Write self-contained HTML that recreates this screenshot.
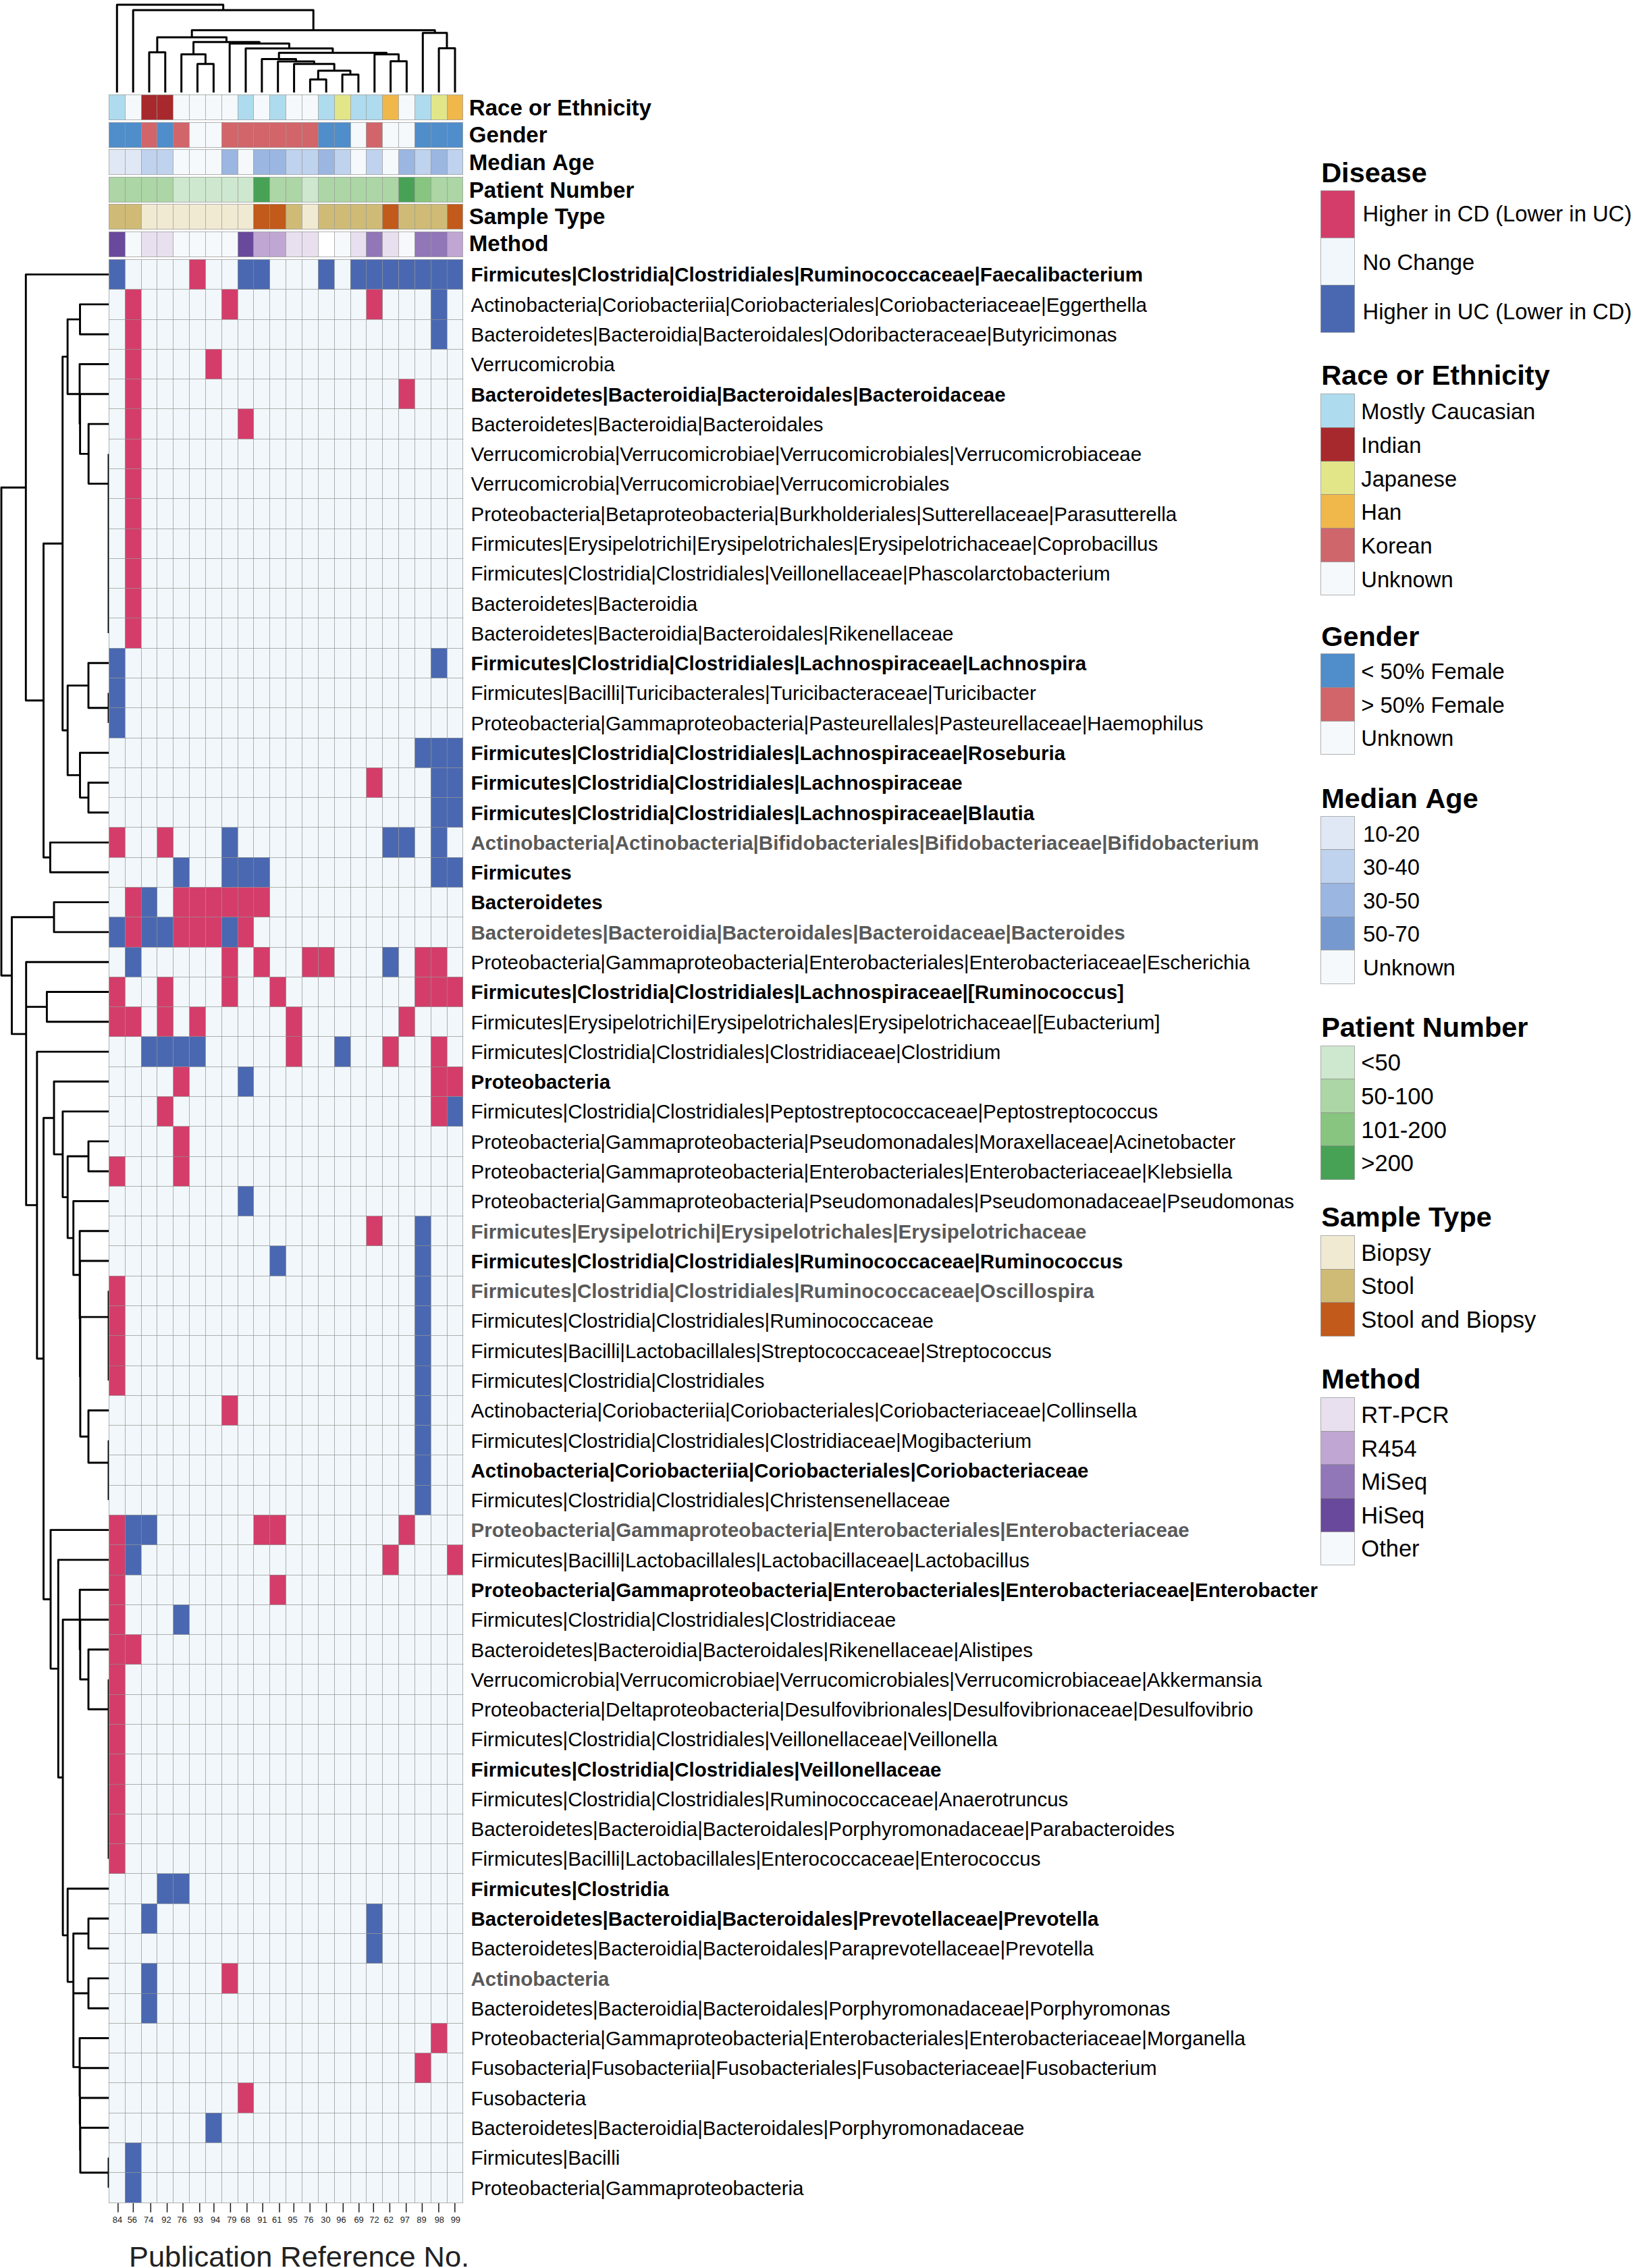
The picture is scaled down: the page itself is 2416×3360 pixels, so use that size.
<!DOCTYPE html>
<html lang="en"><head><meta charset="utf-8"><title>Heatmap</title>
<style>html,body{margin:0;padding:0;background:#fff}svg{display:block}text{font-family:"Liberation Sans",sans-serif}</style></head><body>
<svg width="2416" height="3360" viewBox="0 0 2416 3360">
<rect width="2416" height="3360" fill="#fff"/>
<path d="M221.0,137.0V77.6H244.8V137.0M292.5,137.0V94.7H316.4V137.0M268.7,137.0V80.4H304.4V94.7M459.4,137.0V117.7H483.2V137.0M507.1,137.0V110.4H530.9V137.0M471.3,117.7V104.8H519.0V110.4M435.6,137.0V94.7H495.2V104.8M411.7,137.0V91.0H465.4V94.7M387.9,137.0V87.4H438.5V91.0M578.6,137.0V90.7H602.4V137.0M554.8,137.0V80.4H590.5V90.7M413.2,87.4V78.2H572.6V80.4M364.0,137.0V71.7H492.9V78.2M340.2,137.0V64.4H428.5V71.7M286.6,80.4V62.2H384.3V64.4M232.9,77.6V55.2H335.5V62.2M650.1,137.0V71.4H674.0V137.0M626.3,137.0V48.7H662.0V71.4M284.2,55.2V44.7H644.2V48.7M197.2,137.0V15.0H464.2V44.7M173.3,137.0V7.0H330.7V15.0" fill="none" stroke="#000" stroke-width="3" stroke-linejoin="round"/>
<path d="M161.4,450.9H118.5V495.2H161.4M161.4,628.1H131.2V716.6H161.0M161.4,583.8H118.6V672.4H131.2M161.4,539.5H118.0V628.1H118.6M118.5,473.1H100.1V583.8H118.0M161.4,982.3H131.0V1048.8H161.0M161.4,1159.5H131.0V1203.8H161.4M161.4,1115.2H118.5V1181.6H131.0M131.0,1015.6H100.2V1148.4H118.5M100.1,528.4H92.7V1082.0H100.2M161.4,1248.1H74.4V1292.3H161.4M92.7,805.2H64.5V1270.2H74.4M161.4,406.6H38.3V1037.7H64.5M161.4,1336.6H80.0V1380.9H161.4M161.4,1469.5H69.4V1513.8H161.4M161.4,1690.9H131.0V1735.2H161.4M161.4,2089.5H131.0V2167.0H161.0M161.0,1951.1H118.9V2128.2H131.0M161.4,1868.0H118.5V2039.7H118.9M161.4,1823.8H118.1V1953.8H118.5M161.4,1779.5H108.7V1888.8H118.1M131.0,1713.0H100.2V1834.1H108.7M161.4,1646.6H92.9V1773.6H100.2M161.4,1602.3H80.0V1710.1H92.9M161.4,2443.8H131.0V2532.3H161.0M161.4,2399.5H118.8V2488.0H131.0M161.4,2355.2H118.2V2443.8H118.8M161.4,2842.3H131.0V2886.6H161.4M161.4,2930.9H131.0V2975.2H161.4M161.4,3152.3H118.9V3218.7H161.0M161.4,3108.0H118.6V3185.5H118.9M161.4,3063.7H118.3V3146.8H118.6M161.4,3019.5H118.0V3105.3H118.3M131.0,2953.0H108.7V3062.4H118.0M131.0,2864.5H108.7V3007.7H108.7M161.4,2798.0H100.2V2936.1H108.7M118.2,2399.5H93.1V2867.1H100.2M161.4,2310.9H86.3V2633.3H93.1M161.4,2266.6H75.0V2472.1H86.3M80.0,1656.2H64.5V2369.3H75.0M161.4,1558.1H54.8V2012.8H64.5M69.4,1491.6H38.7V1785.4H54.8M161.4,1425.2H38.7V1638.5H38.7M80.0,1358.8H17.5V1531.9H38.7M38.3,722.2H2.0V1445.3H17.5" fill="none" stroke="#000" stroke-width="2.9" stroke-linejoin="round"/>
<path d="M161.0,672.4V938.1M161.0,1026.6V1070.9M161.0,1912.3V2045.2M161.0,2133.8V2222.3M161.0,2488.0V2753.7M161.0,3196.6V3240.9" fill="none" stroke="#000" stroke-width="2.9"/>
<rect x="161.5" y="140.5" width="24.0" height="37.0" fill="#AEDCEE"/>
<rect x="185.5" y="140.5" width="24.0" height="37.0" fill="#F5F9FB"/>
<rect x="209.5" y="140.5" width="23.0" height="37.0" fill="#A8292D"/>
<rect x="232.5" y="140.5" width="24.0" height="37.0" fill="#A8292D"/>
<rect x="256.5" y="140.5" width="24.0" height="37.0" fill="#F5F9FB"/>
<rect x="280.5" y="140.5" width="24.0" height="37.0" fill="#F5F9FB"/>
<rect x="304.5" y="140.5" width="24.0" height="37.0" fill="#F5F9FB"/>
<rect x="328.5" y="140.5" width="24.0" height="37.0" fill="#F5F9FB"/>
<rect x="352.5" y="140.5" width="23.0" height="37.0" fill="#AEDCEE"/>
<rect x="375.5" y="140.5" width="24.0" height="37.0" fill="#F5F9FB"/>
<rect x="399.5" y="140.5" width="24.0" height="37.0" fill="#AEDCEE"/>
<rect x="423.5" y="140.5" width="24.0" height="37.0" fill="#F5F9FB"/>
<rect x="447.5" y="140.5" width="24.0" height="37.0" fill="#F5F9FB"/>
<rect x="471.5" y="140.5" width="24.0" height="37.0" fill="#AEDCEE"/>
<rect x="495.5" y="140.5" width="24.0" height="37.0" fill="#E3E688"/>
<rect x="519.5" y="140.5" width="23.0" height="37.0" fill="#AEDCEE"/>
<rect x="542.5" y="140.5" width="24.0" height="37.0" fill="#AEDCEE"/>
<rect x="566.5" y="140.5" width="24.0" height="37.0" fill="#F0B74A"/>
<rect x="590.5" y="140.5" width="24.0" height="37.0" fill="#F5F9FB"/>
<rect x="614.5" y="140.5" width="24.0" height="37.0" fill="#AEDCEE"/>
<rect x="638.5" y="140.5" width="24.0" height="37.0" fill="#E3E688"/>
<rect x="662.5" y="140.5" width="23.0" height="37.0" fill="#F0B74A"/>
<path d="M161.5,140.5H685.5M161.5,177.5H685.5M161.5,140.5V177.5M185.5,140.5V177.5M209.5,140.5V177.5M232.5,140.5V177.5M256.5,140.5V177.5M280.5,140.5V177.5M304.5,140.5V177.5M328.5,140.5V177.5M352.5,140.5V177.5M375.5,140.5V177.5M399.5,140.5V177.5M423.5,140.5V177.5M447.5,140.5V177.5M471.5,140.5V177.5M495.5,140.5V177.5M519.5,140.5V177.5M542.5,140.5V177.5M566.5,140.5V177.5M590.5,140.5V177.5M614.5,140.5V177.5M638.5,140.5V177.5M662.5,140.5V177.5M685.5,140.5V177.5" fill="none" stroke="#8c8c8c" stroke-opacity="0.66" stroke-width="1" stroke-linecap="square"/>
<text x="694.8" y="170.75" font-size="33.1" font-weight="bold">Race or Ethnicity</text>
<rect x="161.5" y="181.5" width="24.0" height="37.0" fill="#4F8DCB"/>
<rect x="185.5" y="181.5" width="24.0" height="37.0" fill="#4F8DCB"/>
<rect x="209.5" y="181.5" width="23.0" height="37.0" fill="#D2656A"/>
<rect x="232.5" y="181.5" width="24.0" height="37.0" fill="#4F8DCB"/>
<rect x="256.5" y="181.5" width="24.0" height="37.0" fill="#D2656A"/>
<rect x="280.5" y="181.5" width="24.0" height="37.0" fill="#F5F9FB"/>
<rect x="304.5" y="181.5" width="24.0" height="37.0" fill="#F5F9FB"/>
<rect x="328.5" y="181.5" width="24.0" height="37.0" fill="#D2656A"/>
<rect x="352.5" y="181.5" width="23.0" height="37.0" fill="#D2656A"/>
<rect x="375.5" y="181.5" width="24.0" height="37.0" fill="#D2656A"/>
<rect x="399.5" y="181.5" width="24.0" height="37.0" fill="#D2656A"/>
<rect x="423.5" y="181.5" width="24.0" height="37.0" fill="#D2656A"/>
<rect x="447.5" y="181.5" width="24.0" height="37.0" fill="#D2656A"/>
<rect x="471.5" y="181.5" width="24.0" height="37.0" fill="#4F8DCB"/>
<rect x="495.5" y="181.5" width="24.0" height="37.0" fill="#4F8DCB"/>
<rect x="519.5" y="181.5" width="23.0" height="37.0" fill="#F5F9FB"/>
<rect x="542.5" y="181.5" width="24.0" height="37.0" fill="#D2656A"/>
<rect x="566.5" y="181.5" width="24.0" height="37.0" fill="#F5F9FB"/>
<rect x="590.5" y="181.5" width="24.0" height="37.0" fill="#F5F9FB"/>
<rect x="614.5" y="181.5" width="24.0" height="37.0" fill="#4F8DCB"/>
<rect x="638.5" y="181.5" width="24.0" height="37.0" fill="#4F8DCB"/>
<rect x="662.5" y="181.5" width="23.0" height="37.0" fill="#4F8DCB"/>
<path d="M161.5,181.5H685.5M161.5,218.5H685.5M161.5,181.5V218.5M185.5,181.5V218.5M209.5,181.5V218.5M232.5,181.5V218.5M256.5,181.5V218.5M280.5,181.5V218.5M304.5,181.5V218.5M328.5,181.5V218.5M352.5,181.5V218.5M375.5,181.5V218.5M399.5,181.5V218.5M423.5,181.5V218.5M447.5,181.5V218.5M471.5,181.5V218.5M495.5,181.5V218.5M519.5,181.5V218.5M542.5,181.5V218.5M566.5,181.5V218.5M590.5,181.5V218.5M614.5,181.5V218.5M638.5,181.5V218.5M662.5,181.5V218.5M685.5,181.5V218.5" fill="none" stroke="#8c8c8c" stroke-opacity="0.66" stroke-width="1" stroke-linecap="square"/>
<text x="694.8" y="211.35" font-size="33.1" font-weight="bold">Gender</text>
<rect x="161.5" y="221.5" width="24.0" height="37.0" fill="#E1E8F5"/>
<rect x="185.5" y="221.5" width="24.0" height="37.0" fill="#E1E8F5"/>
<rect x="209.5" y="221.5" width="23.0" height="37.0" fill="#BFD2EE"/>
<rect x="232.5" y="221.5" width="24.0" height="37.0" fill="#BFD2EE"/>
<rect x="256.5" y="221.5" width="24.0" height="37.0" fill="#F5F9FB"/>
<rect x="280.5" y="221.5" width="24.0" height="37.0" fill="#F5F9FB"/>
<rect x="304.5" y="221.5" width="24.0" height="37.0" fill="#F5F9FB"/>
<rect x="328.5" y="221.5" width="24.0" height="37.0" fill="#9AB6E1"/>
<rect x="352.5" y="221.5" width="23.0" height="37.0" fill="#F5F9FB"/>
<rect x="375.5" y="221.5" width="24.0" height="37.0" fill="#9AB6E1"/>
<rect x="399.5" y="221.5" width="24.0" height="37.0" fill="#9AB6E1"/>
<rect x="423.5" y="221.5" width="24.0" height="37.0" fill="#BFD2EE"/>
<rect x="447.5" y="221.5" width="24.0" height="37.0" fill="#BFD2EE"/>
<rect x="471.5" y="221.5" width="24.0" height="37.0" fill="#9AB6E1"/>
<rect x="495.5" y="221.5" width="24.0" height="37.0" fill="#BFD2EE"/>
<rect x="519.5" y="221.5" width="23.0" height="37.0" fill="#F5F9FB"/>
<rect x="542.5" y="221.5" width="24.0" height="37.0" fill="#BFD2EE"/>
<rect x="566.5" y="221.5" width="24.0" height="37.0" fill="#F5F9FB"/>
<rect x="590.5" y="221.5" width="24.0" height="37.0" fill="#9AB6E1"/>
<rect x="614.5" y="221.5" width="24.0" height="37.0" fill="#BFD2EE"/>
<rect x="638.5" y="221.5" width="24.0" height="37.0" fill="#9AB6E1"/>
<rect x="662.5" y="221.5" width="23.0" height="37.0" fill="#BFD2EE"/>
<path d="M161.5,221.5H685.5M161.5,258.5H685.5M161.5,221.5V258.5M185.5,221.5V258.5M209.5,221.5V258.5M232.5,221.5V258.5M256.5,221.5V258.5M280.5,221.5V258.5M304.5,221.5V258.5M328.5,221.5V258.5M352.5,221.5V258.5M375.5,221.5V258.5M399.5,221.5V258.5M423.5,221.5V258.5M447.5,221.5V258.5M471.5,221.5V258.5M495.5,221.5V258.5M519.5,221.5V258.5M542.5,221.5V258.5M566.5,221.5V258.5M590.5,221.5V258.5M614.5,221.5V258.5M638.5,221.5V258.5M662.5,221.5V258.5M685.5,221.5V258.5" fill="none" stroke="#8c8c8c" stroke-opacity="0.66" stroke-width="1" stroke-linecap="square"/>
<text x="694.8" y="252.3" font-size="33.1" font-weight="bold" style="font-kerning:none">Median Age</text>
<rect x="161.5" y="262.5" width="24.0" height="37.0" fill="#ACD6A5"/>
<rect x="185.5" y="262.5" width="24.0" height="37.0" fill="#ACD6A5"/>
<rect x="209.5" y="262.5" width="23.0" height="37.0" fill="#ACD6A5"/>
<rect x="232.5" y="262.5" width="24.0" height="37.0" fill="#ACD6A5"/>
<rect x="256.5" y="262.5" width="24.0" height="37.0" fill="#CEE7CF"/>
<rect x="280.5" y="262.5" width="24.0" height="37.0" fill="#CEE7CF"/>
<rect x="304.5" y="262.5" width="24.0" height="37.0" fill="#CEE7CF"/>
<rect x="328.5" y="262.5" width="24.0" height="37.0" fill="#CEE7CF"/>
<rect x="352.5" y="262.5" width="23.0" height="37.0" fill="#CEE7CF"/>
<rect x="375.5" y="262.5" width="24.0" height="37.0" fill="#48A256"/>
<rect x="399.5" y="262.5" width="24.0" height="37.0" fill="#ACD6A5"/>
<rect x="423.5" y="262.5" width="24.0" height="37.0" fill="#ACD6A5"/>
<rect x="447.5" y="262.5" width="24.0" height="37.0" fill="#CEE7CF"/>
<rect x="471.5" y="262.5" width="24.0" height="37.0" fill="#ACD6A5"/>
<rect x="495.5" y="262.5" width="24.0" height="37.0" fill="#ACD6A5"/>
<rect x="519.5" y="262.5" width="23.0" height="37.0" fill="#ACD6A5"/>
<rect x="542.5" y="262.5" width="24.0" height="37.0" fill="#ACD6A5"/>
<rect x="566.5" y="262.5" width="24.0" height="37.0" fill="#ACD6A5"/>
<rect x="590.5" y="262.5" width="24.0" height="37.0" fill="#48A256"/>
<rect x="614.5" y="262.5" width="24.0" height="37.0" fill="#88C580"/>
<rect x="638.5" y="262.5" width="24.0" height="37.0" fill="#ACD6A5"/>
<rect x="662.5" y="262.5" width="23.0" height="37.0" fill="#ACD6A5"/>
<path d="M161.5,262.5H685.5M161.5,299.5H685.5M161.5,262.5V299.5M185.5,262.5V299.5M209.5,262.5V299.5M232.5,262.5V299.5M256.5,262.5V299.5M280.5,262.5V299.5M304.5,262.5V299.5M328.5,262.5V299.5M352.5,262.5V299.5M375.5,262.5V299.5M399.5,262.5V299.5M423.5,262.5V299.5M447.5,262.5V299.5M471.5,262.5V299.5M495.5,262.5V299.5M519.5,262.5V299.5M542.5,262.5V299.5M566.5,262.5V299.5M590.5,262.5V299.5M614.5,262.5V299.5M638.5,262.5V299.5M662.5,262.5V299.5M685.5,262.5V299.5" fill="none" stroke="#8c8c8c" stroke-opacity="0.66" stroke-width="1" stroke-linecap="square"/>
<text x="694.8" y="292.9" font-size="33.1" font-weight="bold">Patient Number</text>
<rect x="161.5" y="302.5" width="24.0" height="37.0" fill="#CFBB75"/>
<rect x="185.5" y="302.5" width="24.0" height="37.0" fill="#CFBB75"/>
<rect x="209.5" y="302.5" width="23.0" height="37.0" fill="#F1EAD2"/>
<rect x="232.5" y="302.5" width="24.0" height="37.0" fill="#F1EAD2"/>
<rect x="256.5" y="302.5" width="24.0" height="37.0" fill="#F1EAD2"/>
<rect x="280.5" y="302.5" width="24.0" height="37.0" fill="#F1EAD2"/>
<rect x="304.5" y="302.5" width="24.0" height="37.0" fill="#F1EAD2"/>
<rect x="328.5" y="302.5" width="24.0" height="37.0" fill="#F1EAD2"/>
<rect x="352.5" y="302.5" width="23.0" height="37.0" fill="#F1EAD2"/>
<rect x="375.5" y="302.5" width="24.0" height="37.0" fill="#C15A1A"/>
<rect x="399.5" y="302.5" width="24.0" height="37.0" fill="#C15A1A"/>
<rect x="423.5" y="302.5" width="24.0" height="37.0" fill="#CFBB75"/>
<rect x="447.5" y="302.5" width="24.0" height="37.0" fill="#F1EAD2"/>
<rect x="471.5" y="302.5" width="24.0" height="37.0" fill="#CFBB75"/>
<rect x="495.5" y="302.5" width="24.0" height="37.0" fill="#CFBB75"/>
<rect x="519.5" y="302.5" width="23.0" height="37.0" fill="#CFBB75"/>
<rect x="542.5" y="302.5" width="24.0" height="37.0" fill="#CFBB75"/>
<rect x="566.5" y="302.5" width="24.0" height="37.0" fill="#C15A1A"/>
<rect x="590.5" y="302.5" width="24.0" height="37.0" fill="#CFBB75"/>
<rect x="614.5" y="302.5" width="24.0" height="37.0" fill="#CFBB75"/>
<rect x="638.5" y="302.5" width="24.0" height="37.0" fill="#CFBB75"/>
<rect x="662.5" y="302.5" width="23.0" height="37.0" fill="#C15A1A"/>
<path d="M161.5,302.5H685.5M161.5,339.5H685.5M161.5,302.5V339.5M185.5,302.5V339.5M209.5,302.5V339.5M232.5,302.5V339.5M256.5,302.5V339.5M280.5,302.5V339.5M304.5,302.5V339.5M328.5,302.5V339.5M352.5,302.5V339.5M375.5,302.5V339.5M399.5,302.5V339.5M423.5,302.5V339.5M447.5,302.5V339.5M471.5,302.5V339.5M495.5,302.5V339.5M519.5,302.5V339.5M542.5,302.5V339.5M566.5,302.5V339.5M590.5,302.5V339.5M614.5,302.5V339.5M638.5,302.5V339.5M662.5,302.5V339.5M685.5,302.5V339.5" fill="none" stroke="#8c8c8c" stroke-opacity="0.66" stroke-width="1" stroke-linecap="square"/>
<text x="694.8" y="332.4" font-size="33.1" font-weight="bold">Sample Type</text>
<rect x="161.5" y="343.5" width="24.0" height="37.0" fill="#69499B"/>
<rect x="185.5" y="343.5" width="24.0" height="37.0" fill="#F5F9FB"/>
<rect x="209.5" y="343.5" width="23.0" height="37.0" fill="#E8E0EE"/>
<rect x="232.5" y="343.5" width="24.0" height="37.0" fill="#E8E0EE"/>
<rect x="256.5" y="343.5" width="24.0" height="37.0" fill="#F5F9FB"/>
<rect x="280.5" y="343.5" width="24.0" height="37.0" fill="#F5F9FB"/>
<rect x="304.5" y="343.5" width="24.0" height="37.0" fill="#F5F9FB"/>
<rect x="328.5" y="343.5" width="24.0" height="37.0" fill="#F5F9FB"/>
<rect x="352.5" y="343.5" width="23.0" height="37.0" fill="#69499B"/>
<rect x="375.5" y="343.5" width="24.0" height="37.0" fill="#C0A6D2"/>
<rect x="399.5" y="343.5" width="24.0" height="37.0" fill="#C0A6D2"/>
<rect x="423.5" y="343.5" width="24.0" height="37.0" fill="#E8E0EE"/>
<rect x="447.5" y="343.5" width="24.0" height="37.0" fill="#E8E0EE"/>
<rect x="471.5" y="343.5" width="24.0" height="37.0" fill="#FFFFFF"/>
<rect x="495.5" y="343.5" width="24.0" height="37.0" fill="#F5F9FB"/>
<rect x="519.5" y="343.5" width="23.0" height="37.0" fill="#E8E0EE"/>
<rect x="542.5" y="343.5" width="24.0" height="37.0" fill="#9176B8"/>
<rect x="566.5" y="343.5" width="24.0" height="37.0" fill="#E8E0EE"/>
<rect x="590.5" y="343.5" width="24.0" height="37.0" fill="#F5F9FB"/>
<rect x="614.5" y="343.5" width="24.0" height="37.0" fill="#9176B8"/>
<rect x="638.5" y="343.5" width="24.0" height="37.0" fill="#9176B8"/>
<rect x="662.5" y="343.5" width="23.0" height="37.0" fill="#C0A6D2"/>
<path d="M161.5,343.5H685.5M161.5,380.5H685.5M161.5,343.5V380.5M185.5,343.5V380.5M209.5,343.5V380.5M232.5,343.5V380.5M256.5,343.5V380.5M280.5,343.5V380.5M304.5,343.5V380.5M328.5,343.5V380.5M352.5,343.5V380.5M375.5,343.5V380.5M399.5,343.5V380.5M423.5,343.5V380.5M447.5,343.5V380.5M471.5,343.5V380.5M495.5,343.5V380.5M519.5,343.5V380.5M542.5,343.5V380.5M566.5,343.5V380.5M590.5,343.5V380.5M614.5,343.5V380.5M638.5,343.5V380.5M662.5,343.5V380.5M685.5,343.5V380.5" fill="none" stroke="#8c8c8c" stroke-opacity="0.66" stroke-width="1" stroke-linecap="square"/>
<text x="694.8" y="371.8" font-size="33.1" font-weight="bold">Method</text>
<rect x="161.4" y="384.5" width="524.48" height="2878.52" fill="#F1F7FA"/>
<rect x="161.40" y="384.50" width="23.84" height="44.28" fill="#4A68B1"/>
<rect x="280.60" y="384.50" width="23.84" height="44.28" fill="#D43D6A"/>
<rect x="352.12" y="384.50" width="23.84" height="44.28" fill="#4A68B1"/>
<rect x="375.96" y="384.50" width="23.84" height="44.28" fill="#4A68B1"/>
<rect x="471.32" y="384.50" width="23.84" height="44.28" fill="#4A68B1"/>
<rect x="519.00" y="384.50" width="23.84" height="44.28" fill="#4A68B1"/>
<rect x="542.84" y="384.50" width="23.84" height="44.28" fill="#4A68B1"/>
<rect x="566.68" y="384.50" width="23.84" height="44.28" fill="#4A68B1"/>
<rect x="590.52" y="384.50" width="23.84" height="44.28" fill="#4A68B1"/>
<rect x="614.36" y="384.50" width="23.84" height="44.28" fill="#4A68B1"/>
<rect x="638.20" y="384.50" width="23.84" height="44.28" fill="#4A68B1"/>
<rect x="662.04" y="384.50" width="23.84" height="44.28" fill="#4A68B1"/>
<rect x="185.24" y="428.78" width="23.84" height="44.28" fill="#D43D6A"/>
<rect x="328.28" y="428.78" width="23.84" height="44.28" fill="#D43D6A"/>
<rect x="542.84" y="428.78" width="23.84" height="44.28" fill="#D43D6A"/>
<rect x="638.20" y="428.78" width="23.84" height="44.28" fill="#4A68B1"/>
<rect x="185.24" y="473.07" width="23.84" height="44.28" fill="#D43D6A"/>
<rect x="638.20" y="473.07" width="23.84" height="44.28" fill="#4A68B1"/>
<rect x="185.24" y="517.36" width="23.84" height="44.28" fill="#D43D6A"/>
<rect x="304.44" y="517.36" width="23.84" height="44.28" fill="#D43D6A"/>
<rect x="185.24" y="561.64" width="23.84" height="44.28" fill="#D43D6A"/>
<rect x="590.52" y="561.64" width="23.84" height="44.28" fill="#D43D6A"/>
<rect x="185.24" y="605.92" width="23.84" height="44.28" fill="#D43D6A"/>
<rect x="352.12" y="605.92" width="23.84" height="44.28" fill="#D43D6A"/>
<rect x="185.24" y="650.21" width="23.84" height="44.28" fill="#D43D6A"/>
<rect x="185.24" y="694.50" width="23.84" height="44.28" fill="#D43D6A"/>
<rect x="185.24" y="738.78" width="23.84" height="44.28" fill="#D43D6A"/>
<rect x="185.24" y="783.06" width="23.84" height="44.28" fill="#D43D6A"/>
<rect x="185.24" y="827.35" width="23.84" height="44.28" fill="#D43D6A"/>
<rect x="185.24" y="871.63" width="23.84" height="44.28" fill="#D43D6A"/>
<rect x="185.24" y="915.92" width="23.84" height="44.28" fill="#D43D6A"/>
<rect x="161.40" y="960.20" width="23.84" height="44.28" fill="#4A68B1"/>
<rect x="638.20" y="960.20" width="23.84" height="44.28" fill="#4A68B1"/>
<rect x="161.40" y="1004.49" width="23.84" height="44.28" fill="#4A68B1"/>
<rect x="161.40" y="1048.78" width="23.84" height="44.28" fill="#4A68B1"/>
<rect x="614.36" y="1093.06" width="23.84" height="44.28" fill="#4A68B1"/>
<rect x="638.20" y="1093.06" width="23.84" height="44.28" fill="#4A68B1"/>
<rect x="662.04" y="1093.06" width="23.84" height="44.28" fill="#4A68B1"/>
<rect x="542.84" y="1137.34" width="23.84" height="44.28" fill="#D43D6A"/>
<rect x="638.20" y="1137.34" width="23.84" height="44.28" fill="#4A68B1"/>
<rect x="662.04" y="1137.34" width="23.84" height="44.28" fill="#4A68B1"/>
<rect x="638.20" y="1181.63" width="23.84" height="44.28" fill="#4A68B1"/>
<rect x="662.04" y="1181.63" width="23.84" height="44.28" fill="#4A68B1"/>
<rect x="161.40" y="1225.91" width="23.84" height="44.28" fill="#D43D6A"/>
<rect x="232.92" y="1225.91" width="23.84" height="44.28" fill="#D43D6A"/>
<rect x="328.28" y="1225.91" width="23.84" height="44.28" fill="#4A68B1"/>
<rect x="566.68" y="1225.91" width="23.84" height="44.28" fill="#4A68B1"/>
<rect x="590.52" y="1225.91" width="23.84" height="44.28" fill="#4A68B1"/>
<rect x="638.20" y="1225.91" width="23.84" height="44.28" fill="#4A68B1"/>
<rect x="256.76" y="1270.20" width="23.84" height="44.28" fill="#4A68B1"/>
<rect x="328.28" y="1270.20" width="23.84" height="44.28" fill="#4A68B1"/>
<rect x="352.12" y="1270.20" width="23.84" height="44.28" fill="#4A68B1"/>
<rect x="375.96" y="1270.20" width="23.84" height="44.28" fill="#4A68B1"/>
<rect x="638.20" y="1270.20" width="23.84" height="44.28" fill="#4A68B1"/>
<rect x="662.04" y="1270.20" width="23.84" height="44.28" fill="#4A68B1"/>
<rect x="185.24" y="1314.48" width="23.84" height="44.28" fill="#D43D6A"/>
<rect x="209.08" y="1314.48" width="23.84" height="44.28" fill="#4A68B1"/>
<rect x="256.76" y="1314.48" width="23.84" height="44.28" fill="#D43D6A"/>
<rect x="280.60" y="1314.48" width="23.84" height="44.28" fill="#D43D6A"/>
<rect x="304.44" y="1314.48" width="23.84" height="44.28" fill="#D43D6A"/>
<rect x="328.28" y="1314.48" width="23.84" height="44.28" fill="#D43D6A"/>
<rect x="352.12" y="1314.48" width="23.84" height="44.28" fill="#D43D6A"/>
<rect x="375.96" y="1314.48" width="23.84" height="44.28" fill="#D43D6A"/>
<rect x="161.40" y="1358.77" width="23.84" height="44.28" fill="#4A68B1"/>
<rect x="185.24" y="1358.77" width="23.84" height="44.28" fill="#D43D6A"/>
<rect x="209.08" y="1358.77" width="23.84" height="44.28" fill="#4A68B1"/>
<rect x="232.92" y="1358.77" width="23.84" height="44.28" fill="#4A68B1"/>
<rect x="256.76" y="1358.77" width="23.84" height="44.28" fill="#D43D6A"/>
<rect x="280.60" y="1358.77" width="23.84" height="44.28" fill="#D43D6A"/>
<rect x="304.44" y="1358.77" width="23.84" height="44.28" fill="#D43D6A"/>
<rect x="328.28" y="1358.77" width="23.84" height="44.28" fill="#4A68B1"/>
<rect x="352.12" y="1358.77" width="23.84" height="44.28" fill="#D43D6A"/>
<rect x="185.24" y="1403.05" width="23.84" height="44.28" fill="#4A68B1"/>
<rect x="328.28" y="1403.05" width="23.84" height="44.28" fill="#D43D6A"/>
<rect x="375.96" y="1403.05" width="23.84" height="44.28" fill="#D43D6A"/>
<rect x="447.48" y="1403.05" width="23.84" height="44.28" fill="#D43D6A"/>
<rect x="471.32" y="1403.05" width="23.84" height="44.28" fill="#D43D6A"/>
<rect x="566.68" y="1403.05" width="23.84" height="44.28" fill="#4A68B1"/>
<rect x="614.36" y="1403.05" width="23.84" height="44.28" fill="#D43D6A"/>
<rect x="638.20" y="1403.05" width="23.84" height="44.28" fill="#D43D6A"/>
<rect x="161.40" y="1447.34" width="23.84" height="44.28" fill="#D43D6A"/>
<rect x="232.92" y="1447.34" width="23.84" height="44.28" fill="#D43D6A"/>
<rect x="328.28" y="1447.34" width="23.84" height="44.28" fill="#D43D6A"/>
<rect x="399.80" y="1447.34" width="23.84" height="44.28" fill="#D43D6A"/>
<rect x="614.36" y="1447.34" width="23.84" height="44.28" fill="#D43D6A"/>
<rect x="638.20" y="1447.34" width="23.84" height="44.28" fill="#D43D6A"/>
<rect x="662.04" y="1447.34" width="23.84" height="44.28" fill="#D43D6A"/>
<rect x="161.40" y="1491.62" width="23.84" height="44.28" fill="#D43D6A"/>
<rect x="185.24" y="1491.62" width="23.84" height="44.28" fill="#D43D6A"/>
<rect x="232.92" y="1491.62" width="23.84" height="44.28" fill="#D43D6A"/>
<rect x="280.60" y="1491.62" width="23.84" height="44.28" fill="#D43D6A"/>
<rect x="423.64" y="1491.62" width="23.84" height="44.28" fill="#D43D6A"/>
<rect x="590.52" y="1491.62" width="23.84" height="44.28" fill="#D43D6A"/>
<rect x="209.08" y="1535.91" width="23.84" height="44.28" fill="#4A68B1"/>
<rect x="232.92" y="1535.91" width="23.84" height="44.28" fill="#4A68B1"/>
<rect x="256.76" y="1535.91" width="23.84" height="44.28" fill="#4A68B1"/>
<rect x="280.60" y="1535.91" width="23.84" height="44.28" fill="#4A68B1"/>
<rect x="423.64" y="1535.91" width="23.84" height="44.28" fill="#D43D6A"/>
<rect x="495.16" y="1535.91" width="23.84" height="44.28" fill="#4A68B1"/>
<rect x="566.68" y="1535.91" width="23.84" height="44.28" fill="#D43D6A"/>
<rect x="638.20" y="1535.91" width="23.84" height="44.28" fill="#D43D6A"/>
<rect x="256.76" y="1580.19" width="23.84" height="44.28" fill="#D43D6A"/>
<rect x="352.12" y="1580.19" width="23.84" height="44.28" fill="#4A68B1"/>
<rect x="638.20" y="1580.19" width="23.84" height="44.28" fill="#D43D6A"/>
<rect x="662.04" y="1580.19" width="23.84" height="44.28" fill="#D43D6A"/>
<rect x="232.92" y="1624.48" width="23.84" height="44.28" fill="#D43D6A"/>
<rect x="638.20" y="1624.48" width="23.84" height="44.28" fill="#D43D6A"/>
<rect x="662.04" y="1624.48" width="23.84" height="44.28" fill="#4A68B1"/>
<rect x="256.76" y="1668.76" width="23.84" height="44.28" fill="#D43D6A"/>
<rect x="161.40" y="1713.05" width="23.84" height="44.28" fill="#D43D6A"/>
<rect x="256.76" y="1713.05" width="23.84" height="44.28" fill="#D43D6A"/>
<rect x="352.12" y="1757.33" width="23.84" height="44.28" fill="#4A68B1"/>
<rect x="542.84" y="1801.62" width="23.84" height="44.28" fill="#D43D6A"/>
<rect x="614.36" y="1801.62" width="23.84" height="44.28" fill="#4A68B1"/>
<rect x="399.80" y="1845.90" width="23.84" height="44.28" fill="#4A68B1"/>
<rect x="614.36" y="1845.90" width="23.84" height="44.28" fill="#4A68B1"/>
<rect x="161.40" y="1890.19" width="23.84" height="44.28" fill="#D43D6A"/>
<rect x="614.36" y="1890.19" width="23.84" height="44.28" fill="#4A68B1"/>
<rect x="161.40" y="1934.47" width="23.84" height="44.28" fill="#D43D6A"/>
<rect x="614.36" y="1934.47" width="23.84" height="44.28" fill="#4A68B1"/>
<rect x="161.40" y="1978.76" width="23.84" height="44.28" fill="#D43D6A"/>
<rect x="614.36" y="1978.76" width="23.84" height="44.28" fill="#4A68B1"/>
<rect x="161.40" y="2023.04" width="23.84" height="44.28" fill="#D43D6A"/>
<rect x="614.36" y="2023.04" width="23.84" height="44.28" fill="#4A68B1"/>
<rect x="328.28" y="2067.33" width="23.84" height="44.28" fill="#D43D6A"/>
<rect x="614.36" y="2067.33" width="23.84" height="44.28" fill="#4A68B1"/>
<rect x="614.36" y="2111.61" width="23.84" height="44.28" fill="#4A68B1"/>
<rect x="614.36" y="2155.90" width="23.84" height="44.28" fill="#4A68B1"/>
<rect x="614.36" y="2200.18" width="23.84" height="44.28" fill="#4A68B1"/>
<rect x="161.40" y="2244.47" width="23.84" height="44.28" fill="#D43D6A"/>
<rect x="185.24" y="2244.47" width="23.84" height="44.28" fill="#4A68B1"/>
<rect x="209.08" y="2244.47" width="23.84" height="44.28" fill="#4A68B1"/>
<rect x="375.96" y="2244.47" width="23.84" height="44.28" fill="#D43D6A"/>
<rect x="399.80" y="2244.47" width="23.84" height="44.28" fill="#D43D6A"/>
<rect x="590.52" y="2244.47" width="23.84" height="44.28" fill="#D43D6A"/>
<rect x="161.40" y="2288.76" width="23.84" height="44.28" fill="#D43D6A"/>
<rect x="185.24" y="2288.76" width="23.84" height="44.28" fill="#4A68B1"/>
<rect x="566.68" y="2288.76" width="23.84" height="44.28" fill="#D43D6A"/>
<rect x="662.04" y="2288.76" width="23.84" height="44.28" fill="#D43D6A"/>
<rect x="161.40" y="2333.04" width="23.84" height="44.28" fill="#D43D6A"/>
<rect x="399.80" y="2333.04" width="23.84" height="44.28" fill="#D43D6A"/>
<rect x="161.40" y="2377.32" width="23.84" height="44.28" fill="#D43D6A"/>
<rect x="256.76" y="2377.32" width="23.84" height="44.28" fill="#4A68B1"/>
<rect x="161.40" y="2421.61" width="23.84" height="44.28" fill="#D43D6A"/>
<rect x="185.24" y="2421.61" width="23.84" height="44.28" fill="#D43D6A"/>
<rect x="161.40" y="2465.89" width="23.84" height="44.28" fill="#D43D6A"/>
<rect x="161.40" y="2510.18" width="23.84" height="44.28" fill="#D43D6A"/>
<rect x="161.40" y="2554.46" width="23.84" height="44.28" fill="#D43D6A"/>
<rect x="161.40" y="2598.75" width="23.84" height="44.28" fill="#D43D6A"/>
<rect x="161.40" y="2643.03" width="23.84" height="44.28" fill="#D43D6A"/>
<rect x="161.40" y="2687.32" width="23.84" height="44.28" fill="#D43D6A"/>
<rect x="161.40" y="2731.61" width="23.84" height="44.28" fill="#D43D6A"/>
<rect x="232.92" y="2775.89" width="23.84" height="44.28" fill="#4A68B1"/>
<rect x="256.76" y="2775.89" width="23.84" height="44.28" fill="#4A68B1"/>
<rect x="209.08" y="2820.17" width="23.84" height="44.28" fill="#4A68B1"/>
<rect x="542.84" y="2820.17" width="23.84" height="44.28" fill="#4A68B1"/>
<rect x="542.84" y="2864.46" width="23.84" height="44.28" fill="#4A68B1"/>
<rect x="209.08" y="2908.74" width="23.84" height="44.28" fill="#4A68B1"/>
<rect x="328.28" y="2908.74" width="23.84" height="44.28" fill="#D43D6A"/>
<rect x="209.08" y="2953.03" width="23.84" height="44.28" fill="#4A68B1"/>
<rect x="638.20" y="2997.31" width="23.84" height="44.28" fill="#D43D6A"/>
<rect x="614.36" y="3041.60" width="23.84" height="44.28" fill="#D43D6A"/>
<rect x="352.12" y="3085.88" width="23.84" height="44.28" fill="#D43D6A"/>
<rect x="304.44" y="3130.17" width="23.84" height="44.28" fill="#4A68B1"/>
<rect x="185.24" y="3174.45" width="23.84" height="44.28" fill="#4A68B1"/>
<rect x="185.24" y="3218.74" width="23.84" height="44.28" fill="#4A68B1"/>
<path d="M161.50,384.5V3263.02M185.50,384.5V3263.02M209.50,384.5V3263.02M232.50,384.5V3263.02M256.50,384.5V3263.02M280.50,384.5V3263.02M304.50,384.5V3263.02M328.50,384.5V3263.02M352.50,384.5V3263.02M375.50,384.5V3263.02M399.50,384.5V3263.02M423.50,384.5V3263.02M447.50,384.5V3263.02M471.50,384.5V3263.02M495.50,384.5V3263.02M519.50,384.5V3263.02M542.50,384.5V3263.02M566.50,384.5V3263.02M590.50,384.5V3263.02M614.50,384.5V3263.02M638.50,384.5V3263.02M662.50,384.5V3263.02M685.50,384.5V3263.02M161.4,384.50H685.88M161.4,428.50H685.88M161.4,473.50H685.88M161.4,517.50H685.88M161.4,561.50H685.88M161.4,605.50H685.88M161.4,650.50H685.88M161.4,694.50H685.88M161.4,738.50H685.88M161.4,783.50H685.88M161.4,827.50H685.88M161.4,871.50H685.88M161.4,915.50H685.88M161.4,960.50H685.88M161.4,1004.50H685.88M161.4,1048.50H685.88M161.4,1093.50H685.88M161.4,1137.50H685.88M161.4,1181.50H685.88M161.4,1225.50H685.88M161.4,1270.50H685.88M161.4,1314.50H685.88M161.4,1358.50H685.88M161.4,1403.50H685.88M161.4,1447.50H685.88M161.4,1491.50H685.88M161.4,1535.50H685.88M161.4,1580.50H685.88M161.4,1624.50H685.88M161.4,1668.50H685.88M161.4,1713.50H685.88M161.4,1757.50H685.88M161.4,1801.50H685.88M161.4,1845.50H685.88M161.4,1890.50H685.88M161.4,1934.50H685.88M161.4,1978.50H685.88M161.4,2023.50H685.88M161.4,2067.50H685.88M161.4,2111.50H685.88M161.4,2155.50H685.88M161.4,2200.50H685.88M161.4,2244.50H685.88M161.4,2288.50H685.88M161.4,2333.50H685.88M161.4,2377.50H685.88M161.4,2421.50H685.88M161.4,2465.50H685.88M161.4,2510.50H685.88M161.4,2554.50H685.88M161.4,2598.50H685.88M161.4,2643.50H685.88M161.4,2687.50H685.88M161.4,2731.50H685.88M161.4,2775.50H685.88M161.4,2820.50H685.88M161.4,2864.50H685.88M161.4,2908.50H685.88M161.4,2953.50H685.88M161.4,2997.50H685.88M161.4,3041.50H685.88M161.4,3085.50H685.88M161.4,3130.50H685.88M161.4,3174.50H685.88M161.4,3218.50H685.88M161.4,3263.50H685.88" fill="none" stroke="#8c8c8c" stroke-opacity="0.66" stroke-width="1" stroke-linecap="square"/>
<g font-size="29.5">
<text x="697.5" y="417.3" font-weight="bold">Firmicutes|Clostridia|Clostridiales|Ruminococcaceae|Faecalibacterium</text>
<text x="697.5" y="461.6">Actinobacteria|Coriobacteriia|Coriobacteriales|Coriobacteriaceae|Eggerthella</text>
<text x="697.5" y="505.9">Bacteroidetes|Bacteroidia|Bacteroidales|Odoribacteraceae|Butyricimonas</text>
<text x="697.5" y="550.2">Verrucomicrobia</text>
<text x="697.5" y="594.5" font-weight="bold">Bacteroidetes|Bacteroidia|Bacteroidales|Bacteroidaceae</text>
<text x="697.5" y="638.8">Bacteroidetes|Bacteroidia|Bacteroidales</text>
<text x="697.5" y="683.1">Verrucomicrobia|Verrucomicrobiae|Verrucomicrobiales|Verrucomicrobiaceae</text>
<text x="697.5" y="727.3">Verrucomicrobia|Verrucomicrobiae|Verrucomicrobiales</text>
<text x="697.5" y="771.6">Proteobacteria|Betaproteobacteria|Burkholderiales|Sutterellaceae|Parasutterella</text>
<text x="697.5" y="815.9">Firmicutes|Erysipelotrichi|Erysipelotrichales|Erysipelotrichaceae|Coprobacillus</text>
<text x="697.5" y="860.2">Firmicutes|Clostridia|Clostridiales|Veillonellaceae|Phascolarctobacterium</text>
<text x="697.5" y="904.5">Bacteroidetes|Bacteroidia</text>
<text x="697.5" y="948.8">Bacteroidetes|Bacteroidia|Bacteroidales|Rikenellaceae</text>
<text x="697.5" y="993.0" font-weight="bold">Firmicutes|Clostridia|Clostridiales|Lachnospiraceae|Lachnospira</text>
<text x="697.5" y="1037.3">Firmicutes|Bacilli|Turicibacterales|Turicibacteraceae|Turicibacter</text>
<text x="697.5" y="1081.6">Proteobacteria|Gammaproteobacteria|Pasteurellales|Pasteurellaceae|Haemophilus</text>
<text x="697.5" y="1125.9" font-weight="bold">Firmicutes|Clostridia|Clostridiales|Lachnospiraceae|Roseburia</text>
<text x="697.5" y="1170.2" font-weight="bold">Firmicutes|Clostridia|Clostridiales|Lachnospiraceae</text>
<text x="697.5" y="1214.5" font-weight="bold">Firmicutes|Clostridia|Clostridiales|Lachnospiraceae|Blautia</text>
<text x="697.5" y="1258.8" font-weight="bold" fill="#595959">Actinobacteria|Actinobacteria|Bifidobacteriales|Bifidobacteriaceae|Bifidobacterium</text>
<text x="697.5" y="1303.0" font-weight="bold">Firmicutes</text>
<text x="697.5" y="1347.3" font-weight="bold">Bacteroidetes</text>
<text x="697.5" y="1391.6" font-weight="bold" fill="#595959">Bacteroidetes|Bacteroidia|Bacteroidales|Bacteroidaceae|Bacteroides</text>
<text x="697.5" y="1435.9">Proteobacteria|Gammaproteobacteria|Enterobacteriales|Enterobacteriaceae|Escherichia</text>
<text x="697.5" y="1480.2" font-weight="bold">Firmicutes|Clostridia|Clostridiales|Lachnospiraceae|[Ruminococcus]</text>
<text x="697.5" y="1524.5">Firmicutes|Erysipelotrichi|Erysipelotrichales|Erysipelotrichaceae|[Eubacterium]</text>
<text x="697.5" y="1568.8">Firmicutes|Clostridia|Clostridiales|Clostridiaceae|Clostridium</text>
<text x="697.5" y="1613.0" font-weight="bold">Proteobacteria</text>
<text x="697.5" y="1657.3">Firmicutes|Clostridia|Clostridiales|Peptostreptococcaceae|Peptostreptococcus</text>
<text x="697.5" y="1701.6">Proteobacteria|Gammaproteobacteria|Pseudomonadales|Moraxellaceae|Acinetobacter</text>
<text x="697.5" y="1745.9">Proteobacteria|Gammaproteobacteria|Enterobacteriales|Enterobacteriaceae|Klebsiella</text>
<text x="697.5" y="1790.2">Proteobacteria|Gammaproteobacteria|Pseudomonadales|Pseudomonadaceae|Pseudomonas</text>
<text x="697.5" y="1834.5" font-weight="bold" fill="#595959">Firmicutes|Erysipelotrichi|Erysipelotrichales|Erysipelotrichaceae</text>
<text x="697.5" y="1878.7" font-weight="bold">Firmicutes|Clostridia|Clostridiales|Ruminococcaceae|Ruminococcus</text>
<text x="697.5" y="1923.0" font-weight="bold" fill="#595959">Firmicutes|Clostridia|Clostridiales|Ruminococcaceae|Oscillospira</text>
<text x="697.5" y="1967.3">Firmicutes|Clostridia|Clostridiales|Ruminococcaceae</text>
<text x="697.5" y="2011.6">Firmicutes|Bacilli|Lactobacillales|Streptococcaceae|Streptococcus</text>
<text x="697.5" y="2055.9">Firmicutes|Clostridia|Clostridiales</text>
<text x="697.5" y="2100.2">Actinobacteria|Coriobacteriia|Coriobacteriales|Coriobacteriaceae|Collinsella</text>
<text x="697.5" y="2144.5">Firmicutes|Clostridia|Clostridiales|Clostridiaceae|Mogibacterium</text>
<text x="697.5" y="2188.7" font-weight="bold">Actinobacteria|Coriobacteriia|Coriobacteriales|Coriobacteriaceae</text>
<text x="697.5" y="2233.0">Firmicutes|Clostridia|Clostridiales|Christensenellaceae</text>
<text x="697.5" y="2277.3" font-weight="bold" fill="#595959">Proteobacteria|Gammaproteobacteria|Enterobacteriales|Enterobacteriaceae</text>
<text x="697.5" y="2321.6">Firmicutes|Bacilli|Lactobacillales|Lactobacillaceae|Lactobacillus</text>
<text x="697.5" y="2365.9" font-weight="bold">Proteobacteria|Gammaproteobacteria|Enterobacteriales|Enterobacteriaceae|Enterobacter</text>
<text x="697.5" y="2410.2">Firmicutes|Clostridia|Clostridiales|Clostridiaceae</text>
<text x="697.5" y="2454.5">Bacteroidetes|Bacteroidia|Bacteroidales|Rikenellaceae|Alistipes</text>
<text x="697.5" y="2498.7">Verrucomicrobia|Verrucomicrobiae|Verrucomicrobiales|Verrucomicrobiaceae|Akkermansia</text>
<text x="697.5" y="2543.0">Proteobacteria|Deltaproteobacteria|Desulfovibrionales|Desulfovibrionaceae|Desulfovibrio</text>
<text x="697.5" y="2587.3">Firmicutes|Clostridia|Clostridiales|Veillonellaceae|Veillonella</text>
<text x="697.5" y="2631.6" font-weight="bold">Firmicutes|Clostridia|Clostridiales|Veillonellaceae</text>
<text x="697.5" y="2675.9">Firmicutes|Clostridia|Clostridiales|Ruminococcaceae|Anaerotruncus</text>
<text x="697.5" y="2720.2">Bacteroidetes|Bacteroidia|Bacteroidales|Porphyromonadaceae|Parabacteroides</text>
<text x="697.5" y="2764.4">Firmicutes|Bacilli|Lactobacillales|Enterococcaceae|Enterococcus</text>
<text x="697.5" y="2808.7" font-weight="bold">Firmicutes|Clostridia</text>
<text x="697.5" y="2853.0" font-weight="bold">Bacteroidetes|Bacteroidia|Bacteroidales|Prevotellaceae|Prevotella</text>
<text x="697.5" y="2897.3">Bacteroidetes|Bacteroidia|Bacteroidales|Paraprevotellaceae|Prevotella</text>
<text x="697.5" y="2941.6" font-weight="bold" fill="#595959">Actinobacteria</text>
<text x="697.5" y="2985.9">Bacteroidetes|Bacteroidia|Bacteroidales|Porphyromonadaceae|Porphyromonas</text>
<text x="697.5" y="3030.2">Proteobacteria|Gammaproteobacteria|Enterobacteriales|Enterobacteriaceae|Morganella</text>
<text x="697.5" y="3074.4">Fusobacteria|Fusobacteriia|Fusobacteriales|Fusobacteriaceae|Fusobacterium</text>
<text x="697.5" y="3118.7">Fusobacteria</text>
<text x="697.5" y="3163.0">Bacteroidetes|Bacteroidia|Bacteroidales|Porphyromonadaceae</text>
<text x="697.5" y="3207.3">Firmicutes|Bacilli</text>
<text x="697.5" y="3251.6">Proteobacteria|Gammaproteobacteria</text>
</g>
<path d="M174.9,3264V3277.6M197.4,3264V3277.6M223.3,3264V3277.6M247.6,3264V3277.6M271,3264V3277.6M295.8,3264V3277.6M316.9,3264V3277.6M341.4,3264V3277.6M365.9,3264V3277.6M389.2,3264V3277.6M414.0,3264V3277.6M435.3,3264V3277.6M459.2,3264V3277.6M483.5,3264V3277.6M508.3,3264V3277.6M531.8,3264V3277.6M553.3,3264V3277.6M577.4,3264V3277.6M601.7,3264V3277.6M625.4,3264V3277.6M649.9,3264V3277.6M673.8,3264V3277.6" stroke="#1a1a1a" stroke-width="1.5" fill="none"/>
<g font-size="12.9" text-anchor="middle" fill="#222">
<text x="174.0" y="3292.5">84</text>
<text x="195.8" y="3292.5">56</text>
<text x="220.2" y="3292.5">74</text>
<text x="246.4" y="3292.5">92</text>
<text x="269.4" y="3292.5">76</text>
<text x="293.8" y="3292.5">93</text>
<text x="319.05" y="3292.5">94</text>
<text x="343.3" y="3292.5">79</text>
<text x="363.5" y="3292.5">68</text>
<text x="388.4" y="3292.5">91</text>
<text x="410.2" y="3292.5">61</text>
<text x="433.5" y="3292.5">95</text>
<text x="457.2" y="3292.5">76</text>
<text x="482.4" y="3292.5">30</text>
<text x="505.5" y="3292.5">96</text>
<text x="531.6" y="3292.5">69</text>
<text x="554.5" y="3292.5">72</text>
<text x="575.7" y="3292.5">62</text>
<text x="599.8" y="3292.5">97</text>
<text x="624.4" y="3292.5">89</text>
<text x="650.8" y="3292.5">98</text>
<text x="674.8" y="3292.5">99</text>
</g>
<text x="191" y="3358" font-size="43.4" fill="#222">Publication Reference No.</text>
<text x="1957.2" y="269.9" font-size="41.45" font-weight="bold">Disease</text>
<g stroke="#8c8c8c" stroke-opacity="0.66" stroke-width="1">
<rect x="1956.5" y="282.5" width="50" height="70.0" fill="#D43D6A"/>
<rect x="1956.5" y="352.5" width="50" height="70.0" fill="#F1F7FA"/>
<rect x="1956.5" y="422.5" width="50" height="70.0" fill="#4A68B1"/>
</g>
<g font-size="32.75">
<text x="2018.6" y="327.8">Higher in CD (Lower in UC)</text>
<text x="2018.6" y="400.4">No Change</text>
<text x="2018.6" y="473.1">Higher in UC (Lower in CD)</text>
</g>
<text x="1957.2" y="570.2" font-size="41.45" font-weight="bold">Race or Ethnicity</text>
<g stroke="#8c8c8c" stroke-opacity="0.66" stroke-width="1">
<rect x="1956.5" y="583.5" width="50" height="50.0" fill="#AEDCEE"/>
<rect x="1956.5" y="633.5" width="50" height="50.0" fill="#A8292D"/>
<rect x="1956.5" y="683.5" width="50" height="49.0" fill="#E3E688"/>
<rect x="1956.5" y="732.5" width="50" height="50.0" fill="#F0B74A"/>
<rect x="1956.5" y="782.5" width="50" height="50.0" fill="#CF666B"/>
<rect x="1956.5" y="832.5" width="50" height="49.0" fill="#F5F9FB"/>
</g>
<g font-size="32.7">
<text x="2016.3" y="621.1">Mostly Caucasian</text>
<text x="2016.3" y="670.8">Indian</text>
<text x="2016.3" y="720.5">Japanese</text>
<text x="2016.3" y="770.1">Han</text>
<text x="2016.3" y="819.8">Korean</text>
<text x="2016.3" y="869.5">Unknown</text>
</g>
<text x="1957.2" y="956.7" font-size="41.45" font-weight="bold">Gender</text>
<g stroke="#8c8c8c" stroke-opacity="0.66" stroke-width="1">
<rect x="1956.5" y="968.5" width="50" height="50.0" fill="#4F8DCB"/>
<rect x="1956.5" y="1018.5" width="50" height="50.0" fill="#D2656A"/>
<rect x="1956.5" y="1068.5" width="50" height="49.0" fill="#F5F9FB"/>
</g>
<g font-size="32.85">
<text x="2016.3" y="1006.2">&lt; 50% Female</text>
<text x="2016.3" y="1055.8">&gt; 50% Female</text>
<text x="2016.3" y="1105.4">Unknown</text>
</g>
<text x="1957.2" y="1196.8" font-size="41.45" font-weight="bold" style="font-kerning:none">Median Age</text>
<g stroke="#8c8c8c" stroke-opacity="0.66" stroke-width="1">
<rect x="1956.5" y="1209.5" width="50" height="49.0" fill="#E1E8F5"/>
<rect x="1956.5" y="1258.5" width="50" height="50.0" fill="#BFD2EE"/>
<rect x="1956.5" y="1308.5" width="50" height="50.0" fill="#9AB6E1"/>
<rect x="1956.5" y="1358.5" width="50" height="49.0" fill="#7699CF"/>
<rect x="1956.5" y="1407.5" width="50" height="50.0" fill="#F5F9FB"/>
</g>
<g font-size="32.85">
<text x="2019.0" y="1246.6">10-20</text>
<text x="2019.0" y="1296.2">30-40</text>
<text x="2019.0" y="1345.8">30-50</text>
<text x="2019.0" y="1395.4">50-70</text>
<text x="2019.0" y="1445.0">Unknown</text>
</g>
<text x="1957.2" y="1535.8" font-size="41.45" font-weight="bold">Patient Number</text>
<g stroke="#8c8c8c" stroke-opacity="0.66" stroke-width="1">
<rect x="1956.5" y="1549.5" width="50" height="49.0" fill="#CEE7CF"/>
<rect x="1956.5" y="1598.5" width="50" height="50.0" fill="#ACD6A5"/>
<rect x="1956.5" y="1648.5" width="50" height="49.0" fill="#88C580"/>
<rect x="1956.5" y="1697.5" width="50" height="50.0" fill="#48A256"/>
</g>
<g font-size="34.5">
<text x="2016.3" y="1586.3">&lt;50</text>
<text x="2016.3" y="1635.9">50-100</text>
<text x="2016.3" y="1685.5">101-200</text>
<text x="2016.3" y="1735.1">&gt;200</text>
</g>
<text x="1957.2" y="1817.4" font-size="41.45" font-weight="bold">Sample Type</text>
<g stroke="#8c8c8c" stroke-opacity="0.66" stroke-width="1">
<rect x="1956.5" y="1830.5" width="50" height="50.0" fill="#F1EAD2"/>
<rect x="1956.5" y="1880.5" width="50" height="49.0" fill="#CFBB75"/>
<rect x="1956.5" y="1929.5" width="50" height="50.0" fill="#C15A1A"/>
</g>
<g font-size="34.5">
<text x="2016.3" y="1867.7">Biopsy</text>
<text x="2016.3" y="1917.3">Stool</text>
<text x="2016.3" y="1966.9">Stool and Biopsy</text>
</g>
<text x="1957.2" y="2057.4" font-size="41.45" font-weight="bold">Method</text>
<g stroke="#8c8c8c" stroke-opacity="0.66" stroke-width="1">
<rect x="1956.5" y="2070.5" width="50" height="50.0" fill="#E8E0EE"/>
<rect x="1956.5" y="2120.5" width="50" height="49.0" fill="#C0A6D2"/>
<rect x="1956.5" y="2169.5" width="50" height="50.0" fill="#9176B8"/>
<rect x="1956.5" y="2219.5" width="50" height="50.0" fill="#69499B"/>
<rect x="1956.5" y="2269.5" width="50" height="49.0" fill="#F5F9FB"/>
</g>
<g font-size="34.5">
<text x="2016.3" y="2108.0" style="font-kerning:none">RT-PCR</text>
<text x="2016.3" y="2157.6">R454</text>
<text x="2016.3" y="2207.2">MiSeq</text>
<text x="2016.3" y="2256.8">HiSeq</text>
<text x="2016.3" y="2306.4">Other</text>
</g>
</svg></body></html>
